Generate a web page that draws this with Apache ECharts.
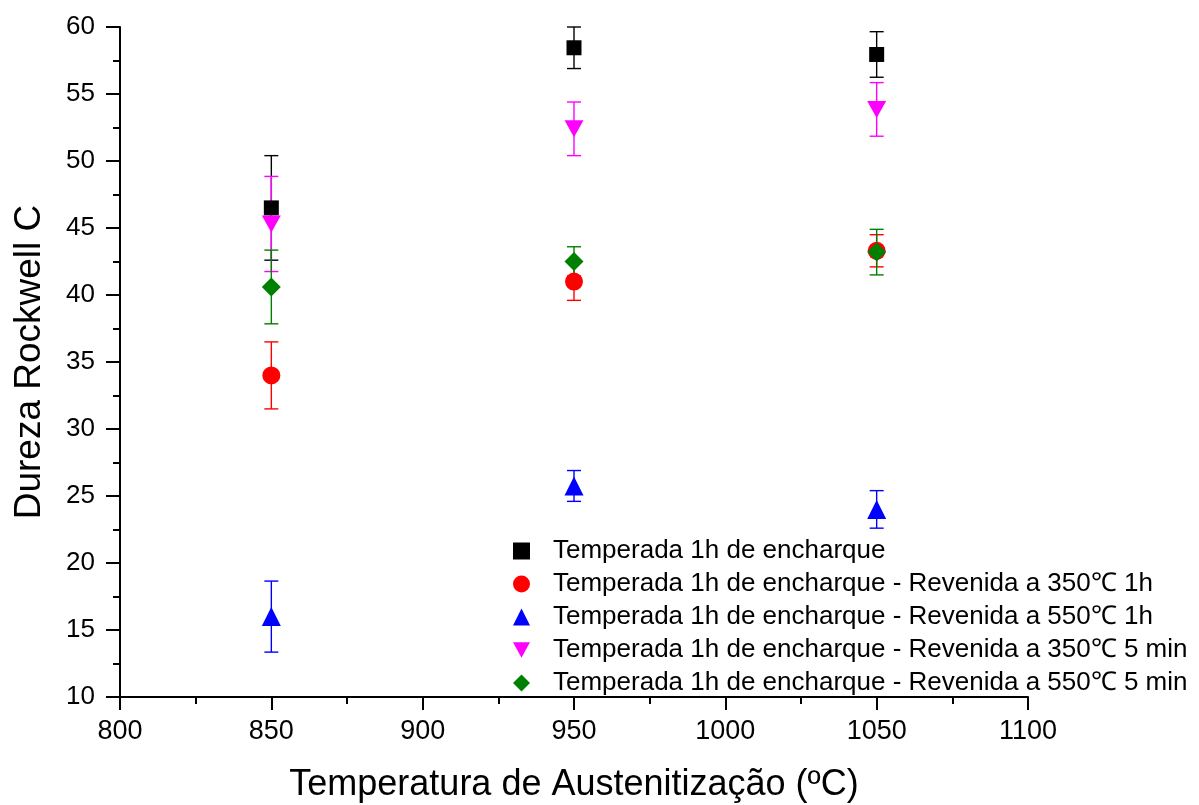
<!DOCTYPE html>
<html>
<head>
<meta charset="utf-8">
<script src="https://cdn.jsdelivr.net/npm/echarts@6/dist/echarts.min.js"></script>
<style>
  html, body { margin: 0; padding: 0; background: #fff; }
  #main { width: 1199px; height: 805px; }
</style>
</head>
<body>
<div id="main"></div>
<script>
// temperatures (x)
var temps = [850, 950, 1050];

var names = [
  'Temperada 1h de encharque',
  'Temperada 1h de encharque - Revenida a 350\u2103 1h',
  'Temperada 1h de encharque - Revenida a 550\u2103 1h',
  'Temperada 1h de encharque - Revenida a 350\u2103 5 min',
  'Temperada 1h de encharque - Revenida a 550\u2103 5 min'
];

// hardness means and errors
var temperada = [46.5, 58.45, 57.95];
var temperadaErr = [3.9, 1.55, 1.7];
var rev350_1h = [34.0, 41.0, 43.3];
var rev350_1hErr = [2.5, 1.4, 1.2];
var rev550_1h = [16.0, 25.75, 24.0];
var rev550_1hErr = [2.65, 1.15, 1.4];
var rev350_5m = [45.3, 52.4, 53.85];
var rev350_5mErr = [3.55, 2.0, 2.0];
var rev550_5m = [40.6, 42.5, 43.2];
var rev550_5mErr = [2.75, 1.1, 1.7];

var colors = ['#000000', '#ff0000', '#0000ff', '#ff00ff', '#008000'];
var symbols = ['rect', 'circle', 'triangle', 'path://M0,0 L10,0 L5,9 Z', 'diamond'];
var sizes = [15, 18, 19, [19, 17], 19];
var means = [temperada, rev350_1h, rev550_1h, rev350_5m, rev550_5m];
var errs = [temperadaErr, rev350_1hErr, rev550_1hErr, rev350_5mErr, rev550_5mErr];

var font = '"Liberation Sans", Arial, sans-serif';

function errorBar(color) {
  return function (params, api) {
    var x = api.value(0);
    var lo = api.coord([x, api.value(1)]);
    var hi = api.coord([x, api.value(2)]);
    var w = 7;
    var style = { stroke: color, lineWidth: 1.4 };
    return {
      type: 'group',
      children: [
        { type: 'line', shape: { x1: lo[0], y1: lo[1], x2: hi[0], y2: hi[1] }, style: style },
        { type: 'line', shape: { x1: lo[0] - w, y1: lo[1], x2: lo[0] + w, y2: lo[1] }, style: style },
        { type: 'line', shape: { x1: hi[0] - w, y1: hi[1], x2: hi[0] + w, y2: hi[1] }, style: style }
      ]
    };
  };
}

var series = [];
for (var i = 0; i < names.length; i++) {
  var pts = [], bars = [];
  for (var j = 0; j < temps.length; j++) {
    pts.push([temps[j], means[i][j]]);
    bars.push([temps[j], means[i][j] - errs[i][j], means[i][j] + errs[i][j]]);
  }
  series.push({
    type: 'custom',
    name: names[i] + ' err',
    renderItem: errorBar(colors[i]),
    data: bars,
    encode: { x: 0, y: [1, 2] },
    z: 2,
    silent: true
  });
  series.push({
    type: 'scatter',
    name: names[i],
    symbol: symbols[i],
    symbolSize: sizes[i],
    itemStyle: { color: colors[i], opacity: 1 },
    data: pts,
    z: 3
  });
}

function plain(v) { return String(v); }

var chart = echarts.init(document.getElementById('main'));
chart.setOption({
  backgroundColor: '#fff',
  animation: false,
  grid: { left: 120, right: 171, top: 27, bottom: 108, containLabel: false, outerBoundsMode: 'none' },
  legend: {
    data: names.map(function (n, k) { return { name: n, icon: symbols[k] }; }),
    orient: 'vertical',
    left: 508,
    top: 533,
    itemWidth: 17,
    itemHeight: 17,
    itemGap: 7,
    textStyle: { fontSize: 26, color: '#000', fontFamily: font, lineHeight: 26, padding: [0, 0, 0, 18] }
  },
  xAxis: {
    type: 'value',
    min: 800, max: 1100, interval: 50,
    name: 'Temperatura de Austenitização (ºC)',
    nameLocation: 'middle',
    nameGap: 70,
    nameTextStyle: { fontSize: 36, color: '#000', fontFamily: font },
    axisLine: { lineStyle: { color: '#000', width: 2 } },
    axisTick: { length: 13, lineStyle: { width: 2 } },
    minorTick: { show: true, splitNumber: 2, length: 7, lineStyle: { color: '#000', width: 2 } },
    splitLine: { show: false },
    axisLabel: { fontSize: 27, color: '#000', fontFamily: font, margin: 21, formatter: plain }
  },
  yAxis: {
    type: 'value',
    min: 10, max: 60, interval: 5,
    name: 'Dureza Rockwell C',
    nameLocation: 'middle',
    nameGap: 72,
    nameTextStyle: { fontSize: 37, color: '#000', fontFamily: font },
    axisLine: { show: true, lineStyle: { color: '#000', width: 2 } },
    axisTick: { show: true, length: 14, lineStyle: { width: 2 } },
    minorTick: { show: true, splitNumber: 2, length: 7, lineStyle: { color: '#000', width: 2 } },
    splitLine: { show: false },
    axisLabel: { fontSize: 26, color: '#000', fontFamily: font, margin: 25, formatter: plain }
  },
  series: series
});
</script>
</body>
</html>
